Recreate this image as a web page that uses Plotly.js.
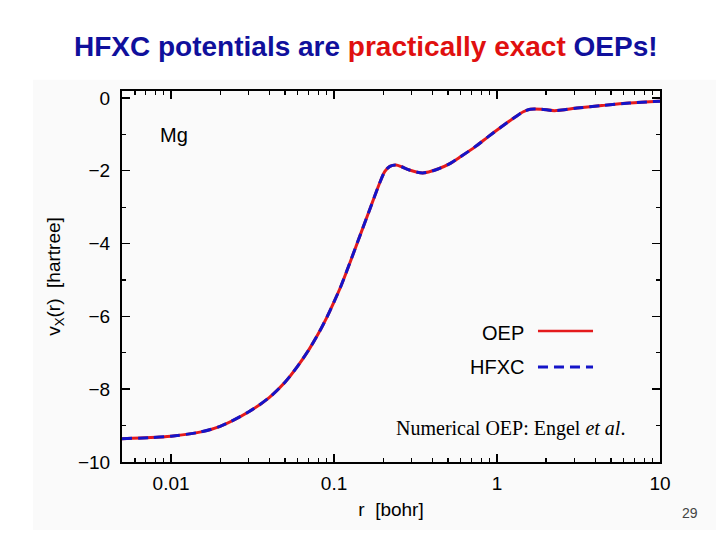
<!DOCTYPE html>
<html>
<head>
<meta charset="utf-8">
<script src="https://cdn.plot.ly/plotly-3.0.1.min.js"></script>
<style>html,body{margin:0;padding:0;background:#fff;}#chart{width:720px;height:540px;}</style>
</head>
<body>
<div id="chart"></div>
<script>
// radius r [bohr]
const rValues = [0.005, 0.0075, 0.01, 0.015, 0.02, 0.03, 0.04, 0.05, 0.06, 0.07, 0.08, 0.09, 0.1,
  0.11, 0.127, 0.146, 0.168, 0.19, 0.205, 0.22, 0.24, 0.26, 0.29, 0.35, 0.43, 0.52, 0.6, 0.74, 0.88,
  1.06, 1.28, 1.45, 1.6, 1.87, 2.25, 3.1, 4.4, 6.5, 10];
// exchange potential v_X(r) [hartree], numerical OEP
const oepValues = [-9.36, -9.33, -9.29, -9.18, -9.02, -8.62, -8.23, -7.81, -7.36, -6.92, -6.48, -6.04, -5.6,
  -5.18, -4.45, -3.72, -2.99, -2.35, -2.02, -1.88, -1.84, -1.89, -1.98, -2.06, -1.96, -1.79, -1.61, -1.33, -1.07,
  -0.8, -0.54, -0.38, -0.31, -0.31, -0.35, -0.28, -0.21, -0.14, -0.09];
// HFXC potential (practically identical)
const hfxcValues = oepValues.slice();

const seriesNames = ['OEP', 'HFXC'];
const xTickVals = [0.01, 0.1, 1, 10];
const xTickText = ['0.01', '0.1', '1', '10'];

const RED = '#e41a1c';
const BLUE = '#1414c8';

const traces = [
  {x: rValues, y: oepValues, name: seriesNames[0], mode: 'lines', type: 'scatter',
   line: {color: RED, width: 3, shape: 'spline', smoothing: 0.8}, showlegend: false, hoverinfo: 'skip'},
  {x: rValues, y: hfxcValues, name: seriesNames[1], mode: 'lines', type: 'scatter',
   line: {color: BLUE, width: 3, dash: '10px,6px', shape: 'spline', smoothing: 0.8}, showlegend: false, hoverinfo: 'skip'}
];

const font = 'Liberation Sans, Arial, Helvetica, sans-serif';

const layout = {
  width: 720, height: 540,
  margin: {l: 122, r: 60, t: 91, b: 78, pad: 0},
  paper_bgcolor: '#ffffff',
  plot_bgcolor: '#ffffff',
  font: {family: font, size: 19, color: '#000'},
  showlegend: false,
  xaxis: {
    type: 'log', range: [Math.log10(0.005), 1],
    tickmode: 'array', tickvals: xTickVals, ticktext: xTickText,
    ticks: 'inside', ticklen: 8, tickwidth: 1.5, tickcolor: '#000',
    minor: {ticks: 'inside', ticklen: 4, tickwidth: 1.2, tickcolor: '#000', dtick: 'D1', showgrid: false},
    showline: true, linecolor: '#000', linewidth: 2, mirror: 'allticks',
    showgrid: false, zeroline: false,
    ticklabelstandoff: 3,
    tickfont: {size: 19, family: font},
    title: {text: 'r\u00a0\u00a0[bohr]', font: {size: 19, family: font}, standoff: 10}
  },
  yaxis: {
    range: [-10, 0.19], tick0: 0, dtick: 2,
    ticks: 'inside', ticklen: 8, tickwidth: 1.5, tickcolor: '#000',
    minor: {ticks: 'inside', ticklen: 4, tickwidth: 1.2, tickcolor: '#000', dtick: 1, showgrid: false},
    showline: true, linecolor: '#000', linewidth: 2, mirror: 'allticks',
    showgrid: false, zeroline: false,
    ticklabelstandoff: 6,
    tickfont: {size: 19, family: font},
    title: {text: 'v<sub>X</sub>(r)\u00a0\u00a0[hartree]', font: {size: 19, family: font}, standoff: 12}
  },
  shapes: [
    {type: 'rect', xref: 'paper', yref: 'paper', x0: -0.1654, x1: 1.104, y0: -0.183, y1: 1.03,
     fillcolor: '#fafafa', line: {width: 0}, layer: 'below'},
    {type: 'line', xref: 'paper', yref: 'paper', x0: 0.7732, x1: 0.8755, y0: 0.3531, y1: 0.3531,
     line: {color: RED, width: 2.5}},
    {type: 'line', xref: 'paper', yref: 'paper', x0: 0.7732, x1: 0.8755, y0: 0.2561, y1: 0.2561,
     line: {color: BLUE, width: 3, dash: '10px,6px'}}
  ],
  annotations: [
    {xref: 'paper', yref: 'paper', x: 0.4535, y: 1.1186, xanchor: 'center', yanchor: 'middle', showarrow: false,
     text: '<b><span style="color:#10109c">HFXC potentials are </span><span style="color:#e01010">practically exact</span><span style="color:#10109c"> OEPs!</span></b>',
     font: {family: font, size: 28}},
    {xref: 'paper', yref: 'paper', x: 0.0967, y: 0.881, xanchor: 'center', yanchor: 'middle', showarrow: false,
     text: 'Mg', font: {family: font, size: 20}},
    {xref: 'paper', yref: 'paper', x: 0.751, y: 0.3477, xanchor: 'right', yanchor: 'middle', showarrow: false,
     text: seriesNames[0], font: {family: font, size: 20}},
    {xref: 'paper', yref: 'paper', x: 0.751, y: 0.256, xanchor: 'right', yanchor: 'middle', showarrow: false,
     text: seriesNames[1], font: {family: font, size: 20}},
    {xref: 'paper', yref: 'paper', x: 0.505, y: 0.0916, xanchor: 'left', yanchor: 'middle', showarrow: false,
     text: 'Numerical OEP: Engel <i>et al</i>.', font: {family: 'Liberation Serif, Times New Roman, serif', size: 20}},
    {xref: 'paper', yref: 'paper', x: 1.056, y: -0.1375, xanchor: 'center', yanchor: 'middle', showarrow: false,
     text: '29', font: {family: font, size: 14, color: '#444'}}
  ]
};

Plotly.newPlot('chart', traces, layout, {staticPlot: true, displayModeBar: false});
</script>
</body>
</html>
